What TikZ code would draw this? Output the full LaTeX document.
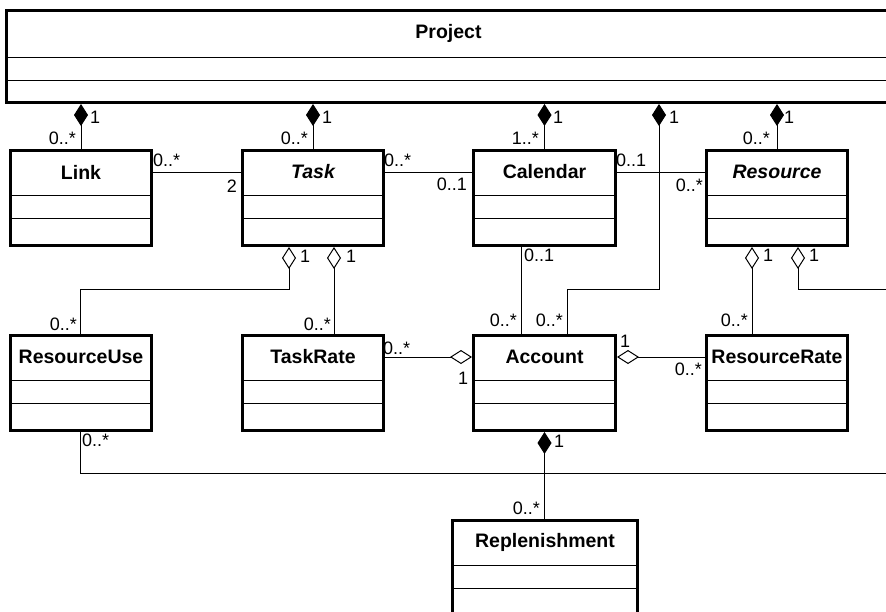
\documentclass[tikz,border=0pt]{standalone}
\usepackage{fontspec}
\setmainfont{Liberation Sans}
\usetikzlibrary{arrows.meta}
\tikzset{
  clsbox/.style={draw=black, line width=3pt, fill=white, inner sep=0pt, anchor=north west},
  clstitle/.style={inner sep=0pt, font=\fontsize{19.5}{22}\selectfont\bfseries},
  sepline/.style={line width=1pt},
  conn/.style={line width=1pt},
  comp/.style={conn, {Diamond[length=22pt,width=14pt]}-},
  aggr/.style={conn, {Diamond[open,length=22pt,width=14pt,fill=white]}-},
  mult/.style={inner sep=0pt, font=\fontsize{18}{20}\selectfont},
}
\newcommand\umlcls[6]{%
  \node[clsbox, minimum width=#4pt, minimum height=#5pt] (#1) at (#2,#3) {};
  \node[clstitle] (#1-t) at ([yshift=-23pt]#1.north) {#6};
  \draw[sepline] ([yshift=-46.5pt]#1.north west) -- ([yshift=-46.5pt]#1.north east);
  \draw[sepline] ([yshift=-69pt]#1.north west) -- ([yshift=-69pt]#1.north east);
}
\begin{document}
\begin{tikzpicture}[x=1pt,y=-1pt]
\useasboundingbox (0,0) rectangle (886,611);
\clip (0,0) rectangle (886,611);
\fill[white] (0,0) rectangle (886,611);

% Project
\node[clsbox, minimum width=884pt, minimum height=92pt] (project) at (5,9) {};
\node[clstitle] (project-t) at ([yshift=-24pt]project.north) {Project};
\draw[sepline] ([yshift=-48pt]project.north west) -- ([yshift=-48pt]project.north east);
\draw[sepline] ([yshift=-71pt]project.north west) -- ([yshift=-71pt]project.north east);

% classes
\umlcls{link}{9}{149}{141}{95}{Link}
\umlcls{task}{241}{149}{141}{95}{\itshape Task}
\umlcls{calendar}{472}{149}{142}{95}{Calendar}
\umlcls{resource}{705}{149}{141}{95}{\itshape Resource}
\umlcls{resuse}{9}{334}{141}{95}{ResourceUse}
\umlcls{taskrate}{241}{334}{141}{95}{TaskRate}
\umlcls{account}{472}{334}{142}{95}{Account}
\umlcls{resrate}{705}{334}{141}{95}{ResourceRate}
\umlcls{repl}{451}{519}{185}{120}{Replenishment}

% bend / free-end coordinates
\coordinate (pa1) at (659,289);
\coordinate (pa2) at (567,289);
\coordinate (tu1) at (289,289);
\coordinate (tu2) at (80,289);
\coordinate (ttr) at (334,289);
\coordinate (ca) at (521,289);
\coordinate (rr) at (752,289);
\coordinate (rx1) at (798,289);
\coordinate (rx2) at (900,289);
\coordinate (ru1) at (80,473);
\coordinate (ru2) at (900,473);

% compositions from Project
\draw[comp] (link.north |- project.south) -- (link.north);
\draw[comp] (task.north |- project.south) -- (task.north);
\draw[comp] (calendar.north |- project.south) -- (calendar.north);
\draw[comp] (pa1 |- project.south) -- (pa1) -- (pa2) -- (pa2 |- account.north);
\draw[comp] (resource.north |- project.south) -- (resource.north);

% associations row 1
\draw[conn] (link-t -| link.east) -- (task-t -| task.west);
\draw[conn] (task-t -| task.east) -- (calendar-t -| calendar.west);
\draw[conn] (calendar-t -| calendar.east) -- (resource-t -| resource.west);

% Task aggregations
\draw[aggr] (tu1 |- task.south) -- (tu1) -- (tu2) -- (tu2 |- resuse.north);
\draw[aggr] (ttr |- task.south) -- (ttr |- taskrate.north);
% Calendar - Account
\draw[conn] (ca |- calendar.south) -- (ca |- account.north);
% Resource aggregations
\draw[aggr] (rr |- resource.south) -- (rr |- resrate.north);
\draw[aggr] (rx1 |- resource.south) -- (rx1) -- (rx2);

% row 2 horizontal
\draw[aggr] (account-t -| account.west) -- (taskrate-t -| taskrate.east);
\draw[aggr] (account-t -| account.east) -- (resrate-t -| resrate.west);
% Account - Replenishment
\draw[comp] (account.south) -- (repl.north -| account.south);
% ResourceUse bottom
\draw[conn] (resuse.south -| ru1) -- (ru1) -- (ru2);

% multiplicities
\node[mult, anchor=west] (m1) at (90,117) {1};
\node[mult, anchor=east] (m2) at (76,138) {0..*};
\node[mult, anchor=west] (m3) at (322,117) {1};
\node[mult, anchor=east] (m4) at (308,138) {0..*};
\node[mult, anchor=west] (m5) at (553,117) {1};
\node[mult, anchor=east] (m6) at (539,138) {1..*};
\node[mult, anchor=west] (m7) at (669,117) {1};
\node[mult, anchor=west] (m8) at (784,117) {1};
\node[mult, anchor=east] (m9) at (770,138) {0..*};

\node[mult, anchor=west] (m10) at (153,160) {0..*};
\node[mult, anchor=east] (m11) at (237,186) {2};
\node[mult, anchor=west] (m12) at (384,160) {0..*};
\node[mult, anchor=east] (m13) at (467,184) {0..1};
\node[mult, anchor=west] (m14) at (616,160) {0..1};
\node[mult, anchor=east] (m15) at (703,185) {0..*};

\node[mult, anchor=west] (m16) at (300,256) {1};
\node[mult, anchor=west] (m17) at (346,256) {1};
\node[mult, anchor=east] (m18) at (77,324) {0..*};
\node[mult, anchor=east] (m19) at (331,324) {0..*};
\node[mult, anchor=west] (m20) at (524,255) {0..1};
\node[mult, anchor=east] (m21) at (517,320) {0..*};
\node[mult, anchor=east] (m22) at (563,320) {0..*};
\node[mult, anchor=west] (m23) at (763,255) {1};
\node[mult, anchor=west] (m24) at (809,255) {1};
\node[mult, anchor=east] (m25) at (748,320) {0..*};

\node[mult, anchor=west] (m26) at (383,348) {0..*};
\node[mult] (m27) at (463,378) {1};
\node[mult] (m28) at (625,341) {1};
\node[mult, anchor=east] (m29) at (702,369) {0..*};
\node[mult, anchor=west] (m30) at (554,441) {1};
\node[mult, anchor=east] (m31) at (540,508) {0..*};
\node[mult, anchor=west] (m32) at (82,440) {0..*};
\end{tikzpicture}
\end{document}
